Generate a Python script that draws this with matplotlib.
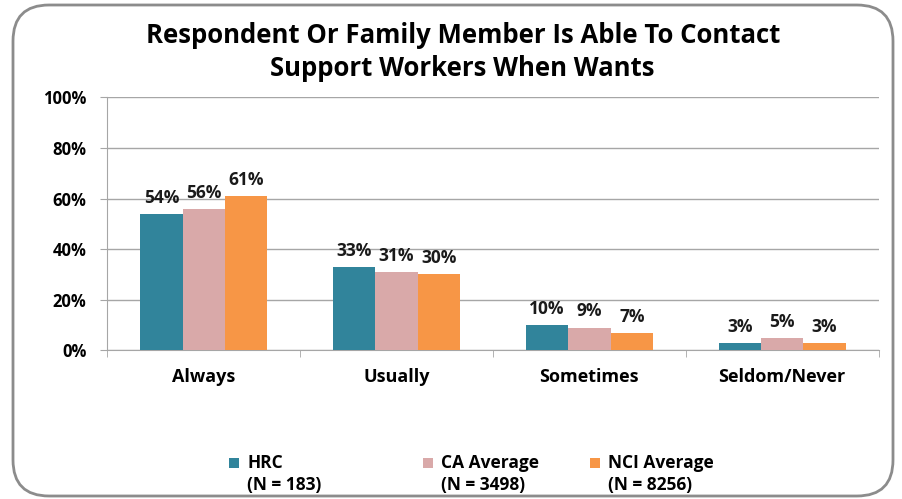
import numpy as np
import matplotlib.pyplot as plt
from matplotlib.patches import FancyBboxPatch, Rectangle

categories = ['Always', 'Usually', 'Sometimes', 'Seldom/Never']
series_names = ['HRC', 'CA Average', 'NCI Average']
series_n = ['(N = 183)', '(N = 3498)', '(N = 8256)']
hrc = [54, 33, 10, 3]
ca_avg = [56, 31, 9, 5]
nci_avg = [61, 30, 7, 3]
colors = ['#31849B', '#D9A9A9', '#F79646']
title = 'Respondent Or Family Member Is Able To Contact\nSupport Workers When Wants'


def main():
    plt.rcParams['font.family'] = ['Open Sans', 'DejaVu Sans']
    W, H = 902, 499
    fig = plt.figure(figsize=(W / 100, H / 100), dpi=100)

    # rounded outer frame
    frame = FancyBboxPatch((13 / W, 3 / H), 880 / W, 491 / H,
                           boxstyle='round,pad=0,rounding_size=0.04',
                           transform=fig.transFigure, facecolor='none',
                           edgecolor='#8c8c8c', linewidth=2.0,
                           mutation_aspect=W / H, zorder=-5)
    fig.patches.append(frame)

    ax = fig.add_axes([0.119, 0.298, 0.855, 0.507])
    ax.set_facecolor('none')

    x = np.arange(len(categories))
    w = 0.22
    data = [hrc, ca_avg, nci_avg]
    for i, (vals, c) in enumerate(zip(data, colors)):
        pos = x + (i - 1) * w
        ax.bar(pos, vals, width=w, color=c, zorder=3)
        for p, v in zip(pos, vals):
            ax.text(p, v + 2.8, f'{v}%', ha='center', va='bottom',
                    fontsize=12.5, fontweight='bold', color='#1a1a1a')

    ax.set_xlim(-0.5, len(categories) - 0.5)
    ax.set_ylim(0, 100)
    ax.set_yticks(range(0, 101, 20))
    ax.set_yticklabels([f'{t}%' for t in range(0, 101, 20)],
                       fontsize=12, fontweight='bold')
    ax.yaxis.grid(True, color='#a6a6a6', linewidth=1.0, zorder=0)
    ax.set_xticks(x)
    ax.set_xticklabels(categories, fontsize=13, fontweight='bold')
    ax.tick_params(axis='x', length=0, pad=13)
    ax.set_xticks(np.arange(-0.5, len(categories) + 0.5), minor=True)
    ax.tick_params(axis='x', which='minor', length=5, color='#a6a6a6')
    ax.tick_params(axis='y', length=5, color='#a6a6a6', pad=10)
    for s in ['top', 'right']:
        ax.spines[s].set_visible(False)
    for s in ['left', 'bottom']:
        ax.spines[s].set_color('#a6a6a6')

    fig.text(0.513, 0.896, title, ha='center', va='center',
             fontsize=18.5, fontweight='bold', linespacing=1.25)

    # legend drawn by hand: square + two lines of text
    sq_x = [229, 423, 590]
    for name, n, c, sx in zip(series_names, series_n, colors, sq_x):
        fig.patches.append(Rectangle((sx / W, 1 - 468 / H), 10 / W, 10 / H,
                                     transform=fig.transFigure,
                                     facecolor=c, edgecolor='none'))
        fig.text((sx + 18) / W, 1 - 463 / H, name, ha='left', va='center',
                 fontsize=12.5, fontweight='bold')
        fig.text((sx + 18) / W, 1 - 485 / H, n, ha='left', va='center',
                 fontsize=12.5, fontweight='bold')

    plt.savefig('out.png', dpi=100)


if __name__ == '__main__':
    main()
